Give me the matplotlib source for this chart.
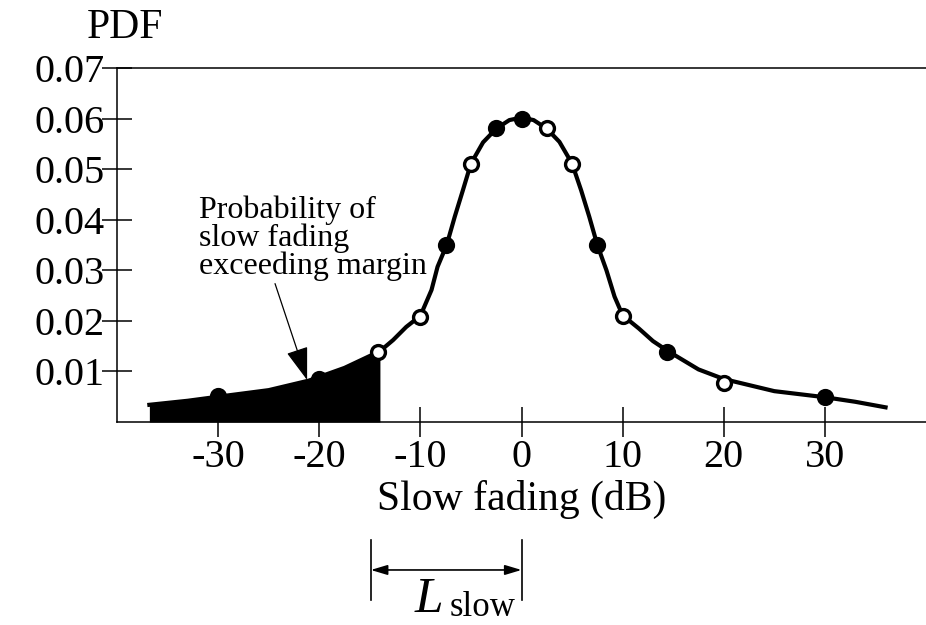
import matplotlib
matplotlib.use("Agg")
import matplotlib.pyplot as plt

# ---------------------------------------------------------------------------
# Data
# ---------------------------------------------------------------------------
curve_db = [-36.8, -33, -30, -25, -21, -17.5, -14, -12.7, -11.4, -10, -8.9,
            -8.3, -7.4, -6.6, -5.8, -5, -3.8, -2.5, -1.2, 0, 1.2, 2.5, 3.75,
            5, 5.9, 6.7, 7.5, 8.4, 9.2, 10, 11.6, 13, 14.5, 17.5, 20, 25, 30,
            33, 36]
curve_pdf = [0.0034, 0.0042, 0.0050, 0.0063, 0.0082, 0.0107, 0.0140, 0.0162,
             0.0188, 0.0210, 0.0261, 0.0307, 0.0350, 0.0406, 0.0458, 0.0511,
             0.0553, 0.0580, 0.0597, 0.0602, 0.0597, 0.0580, 0.0554, 0.0511,
             0.0458, 0.0406, 0.0350, 0.0300, 0.0248, 0.0211, 0.0185, 0.0160,
             0.0140, 0.0104, 0.0085, 0.0061, 0.0049, 0.0040, 0.0029]

open_db = [-14.2, -10, -5, 2.5, 5, 10, 20]
open_pdf = [0.0138, 0.0208, 0.0511, 0.0581, 0.0511, 0.0210, 0.0077]
solid_db = [-30, -20, -7.5, -2.5, 0, 7.5, 14.4, 30]
solid_pdf = [0.0052, 0.0085, 0.0350, 0.0581, 0.0600, 0.0350, 0.0139, 0.0049]

margin_db = -14.0      # shaded tail ends here
lslow_left = -14.9     # dimension line ends
lslow_right = 0.0

x_ticks = [-30, -20, -10, 0, 10, 20, 30]
y_ticks = [0.01, 0.02, 0.03, 0.04, 0.05, 0.06, 0.07]

plt.rcParams["font.family"] = ["Liberation Serif", "DejaVu Serif"]

fig = plt.figure(figsize=(9.26, 6.25), dpi=100)
ax = fig.add_axes([117 / 926, 203 / 625, 809 / 926, 354 / 625])

# shaded tail
tail = [i for i, v in enumerate(curve_db) if v <= margin_db]
ax.fill_between([curve_db[i] for i in tail], [curve_pdf[i] for i in tail], 0,
                color="black", linewidth=0, zorder=2)

ax.plot(curve_db, curve_pdf, color="black", linewidth=3, zorder=3,
        solid_joinstyle="round")
ax.plot(open_db, open_pdf, "o", ms=10, mfc="white", mec="black", mew=2.4,
        zorder=4)
ax.plot(solid_db, solid_pdf, "o", ms=10, mfc="black", mec="black", mew=2.4,
        zorder=4)

ax.set_xlim(-40, 40)
ax.set_ylim(0, 0.07)
ax.set_xticks(x_ticks)
ax.set_xticklabels([str(v) for v in x_ticks])
ax.set_yticks(y_ticks)
ax.set_yticklabels([f"{v:.2f}" for v in y_ticks])
ax.tick_params(axis="both", direction="inout", length=22, width=1.1,
               labelsize=29, color="black")
ax.tick_params(axis="y", pad=-2)
ax.tick_params(axis="x", pad=1)
for side in ("left", "bottom", "top"):
    ax.spines[side].set_linewidth(1.1)
ax.spines["right"].set_visible(False)

ax.set_xlabel("Slow fading (dB)", fontsize=30, labelpad=3)
ax.text(0.01, 1.085, "PDF", transform=ax.transAxes, ha="center",
        va="baseline", fontsize=30)

# annotation
ax.annotate("Probability of\nslow fading\nexceeding margin",
            xy=(-21.2, 0.0083), xytext=(-31.9, 0.0447),
            ha="left", va="top", fontsize=23, linespacing=0.92,
            arrowprops=dict(arrowstyle="-|>,head_length=0.9,head_width=0.3",
                            color="black", lw=0.9, shrinkA=0, shrinkB=0,
                            relpos=(0.33, 0.0)),
            zorder=5)

# L_slow dimension marker below the axis
xt = ax.get_xaxis_transform()
for xv in (lslow_left, lslow_right):
    ax.plot([xv, xv], [-0.333, -0.503], color="black", lw=1.2,
            transform=xt, clip_on=False)
ax.annotate("", xy=(lslow_left, -0.418), xytext=(lslow_right, -0.418),
            xycoords=xt, textcoords=xt,
            arrowprops=dict(arrowstyle="<|-|>,head_length=1.0,head_width=0.3",
                            color="black", lw=1.2, shrinkA=0, shrinkB=0))
ax.text(-10.6, -0.538, "L", transform=xt, fontsize=37, style="italic",
        ha="left", va="baseline")
ax.text(-7.1, -0.548, "slow", transform=xt, fontsize=25,
        ha="left", va="baseline")

fig.savefig("out.png", dpi=100)
